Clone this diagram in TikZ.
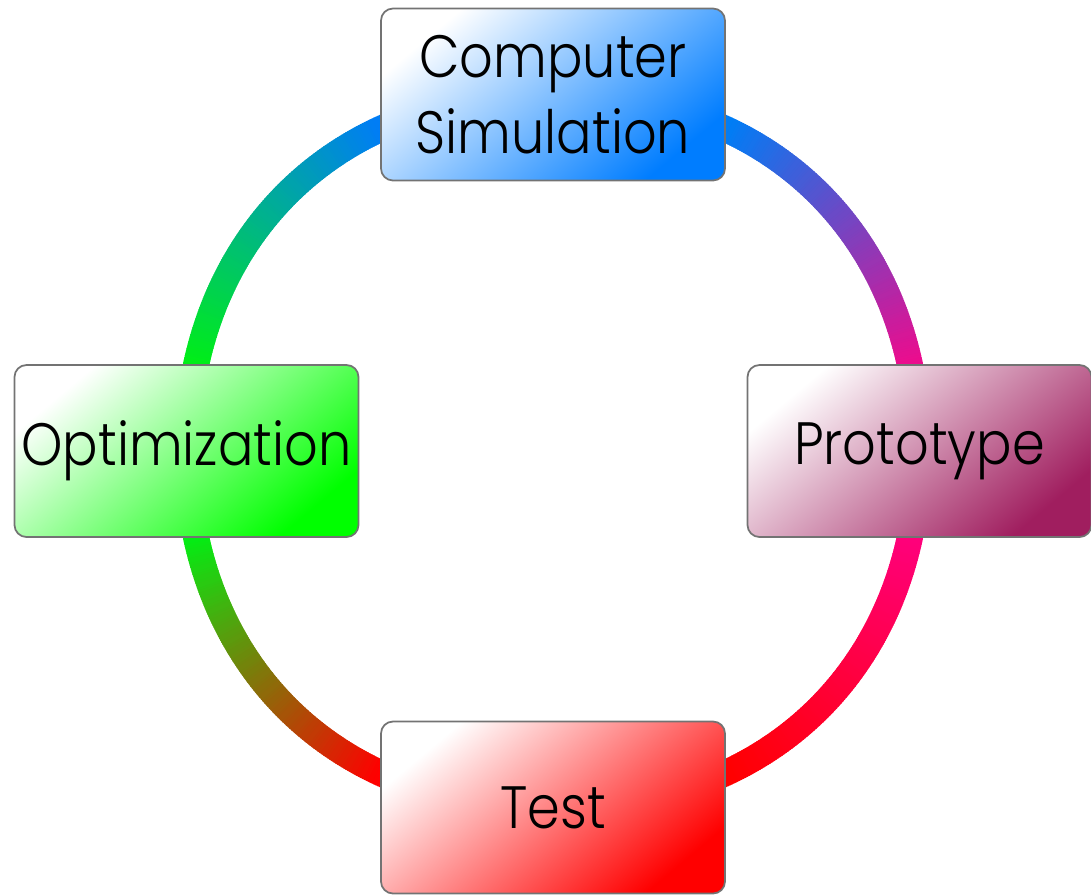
\documentclass[tikz,border=0pt]{standalone}
\usepackage{fontspec}
\IfFontExistsTF{Poppins Light}
	{\setmainfont{Poppins Light}[FakeStretch=0.88]}
	{\setmainfont{Poppins}[FakeStretch=0.88]}
\usetikzlibrary{decorations.markings}
\usetikzlibrary{backgrounds}

\definecolor{simblue}{RGB}{0,125,255}
\definecolor{optgreen}{RGB}{0,255,0}
\definecolor{protoplum}{RGB}{160,30,95}
\definecolor{testred}{RGB}{255,0,0}
\definecolor{ringblue}{RGB}{0,125,245}
\definecolor{ringgreen}{RGB}{0,240,20}
\definecolor{ringmagenta}{RGB}{240,10,140}
\definecolor{ringpink}{RGB}{255,0,125}
\definecolor{ringred}{RGB}{255,0,0}

\tikzset{
	stage/.style={draw=black!55,line width=0.5pt,rounded corners=0.12cm,
		minimum width=3.44cm,minimum height=1.72cm,inner sep=0pt,align=center,
		font=\fontsize{17}{21.5}\selectfont,
		bottom color=white,top color=#1,shading angle=-140},
	ring/.style 2 args={decorate,decoration={markings,
		mark=between positions 0 and 1 step 0.004 with {
			\pgfmathsetmacro{\f}{\pgfkeysvalueof{/pgf/decoration/mark info/distance from start}/\pgfdecoratedpathlength}
			\pgfmathtruncatemacro{\mix}{max(0,min(100,100*(\f-0.31)/0.54))}
			\fill[#2!\mix!#1] (-0.5pt,-0.13cm) rectangle (0.5pt,0.13cm);
		}}}
}

\begin{document}
\begin{tikzpicture}
	\useasboundingbox (-5.53,-4.43) rectangle (5.38,4.51);
	\draw (0,3.565) node (sim) [stage=simblue] {Computer\\Simulation};
	\draw (-3.665,0) node (opt) [stage=optgreen] {Optimization};
	\draw (3.665,0) node (proto) [stage=protoplum] {Prototype};
	\draw (0,-3.565) node (test) [stage=testred] {Test};
	\begin{pgfonlayer}{background}
		\path [ring={ringblue}{ringgreen}] (sim.center) to [bend right=45,looseness=1.08] (opt.center);
		\path [ring={ringblue}{ringmagenta}] (sim.center) to [bend left=45,looseness=1.08] (proto.center);
		\path [ring={ringred}{ringgreen}] (test.center) to [bend left=45,looseness=1.08] (opt.center);
		\path [ring={ringred}{ringpink}] (test.center) to [bend right=45,looseness=1.08] (proto.center);
	\end{pgfonlayer}
\end{tikzpicture}
\end{document}
